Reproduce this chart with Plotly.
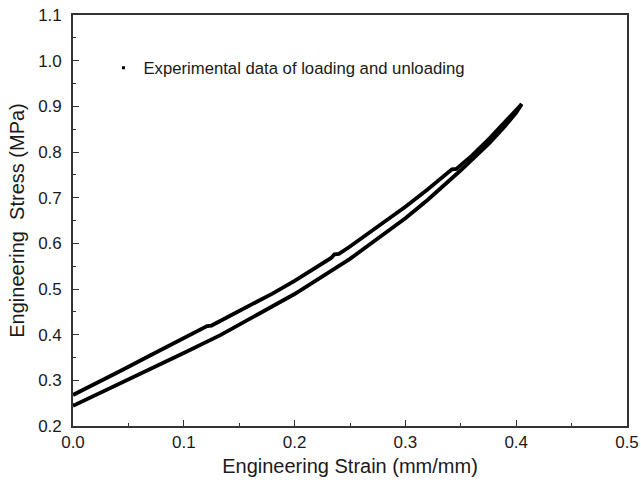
import plotly.graph_objects as go

# Loading branch (upper curve)
load_strain = [0.0, 0.02, 0.044, 0.07, 0.10, 0.118, 0.121, 0.125, 0.15, 0.18, 0.20, 0.22, 0.233, 0.236, 0.240,
               0.25, 0.28, 0.30, 0.32, 0.339, 0.342, 0.346, 0.36, 0.376, 0.39, 0.40, 0.405]
load_stress = [0.268, 0.292, 0.322, 0.355, 0.392, 0.414, 0.419, 0.420, 0.451, 0.490, 0.518, 0.547, 0.568, 0.576, 0.577,
               0.593, 0.644, 0.680, 0.718, 0.755, 0.762, 0.763, 0.792, 0.830, 0.866, 0.890, 0.905]

# Unloading branch (lower curve)
unload_strain = [0.405, 0.40, 0.39, 0.376, 0.35, 0.32, 0.30, 0.25, 0.20, 0.15, 0.133, 0.10, 0.068, 0.04, 0.02, 0.0]
unload_stress = [0.905, 0.886, 0.857, 0.820, 0.760, 0.695, 0.655, 0.566, 0.489, 0.421, 0.399, 0.360, 0.323, 0.290, 0.267, 0.244]

legend_label = "Experimental data of loading and unloading"

font_family = "Liberation Sans, Arial, sans-serif"
ink = "#1a1a1a"

fig = go.Figure()
fig.add_trace(go.Scatter(x=load_strain, y=load_stress, mode="lines",
                         line=dict(color="black", width=3.8),
                         showlegend=False))
fig.add_trace(go.Scatter(x=unload_strain, y=unload_stress, mode="lines",
                         line=dict(color="black", width=3.8),
                         showlegend=False))
fig.add_trace(go.Scatter(x=[None], y=[None], mode="markers",
                         marker=dict(color="black", size=3, symbol="square"),
                         name=legend_label, showlegend=True))

axis_common = dict(
    showgrid=False, zeroline=False, showline=True, linecolor="#333333", linewidth=1.6,
    mirror=True, ticks="inside", ticklen=6, tickwidth=1.2, tickcolor="#333333",
    tickfont=dict(family=font_family, size=17, color=ink), automargin=False,
    ticklabeloverflow="allow",
)

fig.update_xaxes(range=[0, 0.5], dtick=0.1, tickformat=".1f", ticklabelstandoff=0,
                 minor=dict(dtick=0.05, ticks="inside", ticklen=3, tickcolor="#333333"),
                 title=dict(text="Engineering Strain (mm/mm)", font=dict(family=font_family, size=20, color=ink),
                            standoff=8),
                 **axis_common)
fig.update_yaxes(range=[0.2, 1.1], dtick=0.1, tickformat=".1f", ticklabelstandoff=6,
                 minor=dict(dtick=0.05, ticks="inside", ticklen=3, tickcolor="#333333"),
                 title=dict(text="Engineering\u00a0 Stress (MPa)", font=dict(family=font_family, size=20, color=ink),
                            standoff=8),
                 **axis_common)

fig.update_layout(
    width=641, height=486,
    margin=dict(l=73, r=14, t=15, b=60),
    plot_bgcolor="white", paper_bgcolor="white",
    font=dict(family=font_family, color=ink),
    legend=dict(x=0.055, y=0.871, xanchor="left", yanchor="middle",
                bgcolor="rgba(0,0,0,0)", font=dict(family=font_family, size=16.7, color=ink),
                itemwidth=30),
)

fig.write_html("out.html", config={"displayModeBar": False},
               post_script="document.body.style.margin='0';")
